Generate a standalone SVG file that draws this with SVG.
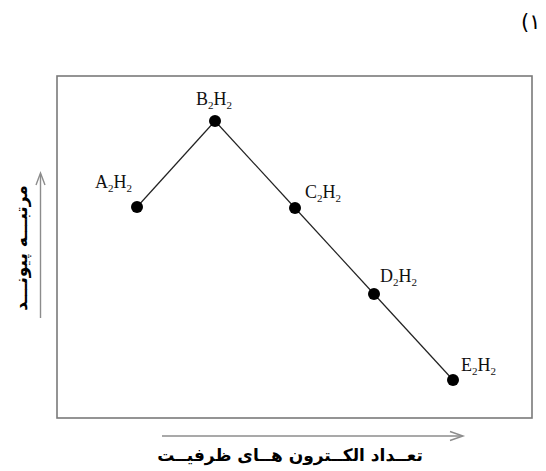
<svg xmlns="http://www.w3.org/2000/svg" width="546" height="471" viewBox="0 0 546 471">
  <defs>
    <style>
      .frame { fill: none; stroke: #7a7a7a; stroke-width: 1.6; }
      .axis { fill: none; stroke: #8c8c8c; stroke-width: 1.4; }
      .edge { fill: none; stroke: #222; stroke-width: 1.2; }
      .dot { fill: #000; }
      .lbl { font-family: "Liberation Serif", "Times New Roman", serif; font-size: 18px; fill: #111; }
      .sub { font-size: 11px; }
      .fa { font-family: "DejaVu Sans", "Noto Sans", sans-serif; font-size: 17px; font-weight: bold; fill: #000; }
    </style>
  </defs>
  <rect width="546" height="471" fill="#fff"/>

  <text x="521" y="29" style="font-family: 'DejaVu Sans', sans-serif; font-size: 21px; fill:#000;">(۱</text>

  <rect class="frame" x="57" y="76" width="475" height="342"/>

  <g id="axes">
    <line class="axis" x1="40.5" y1="318" x2="40.5" y2="174"/>
    <polyline class="axis" points="36,185 40.5,173 45,185"/>
    <line class="axis" x1="162" y1="436" x2="462" y2="436"/>
    <polyline class="axis" points="450,431.5 463,436 450,440.5"/>
  </g>

  <text class="fa" transform="rotate(-90 27 248)" x="27" y="248" text-anchor="middle">مرتبـــه پیونـــد</text>
  <text class="fa" x="290" y="461" text-anchor="middle">تعــداد الکــترون هــای ظرفیــت</text>

  <g id="connectors">
    <line class="edge" x1="137" y1="207" x2="215" y2="121"/>
    <line class="edge" x1="215" y1="121" x2="295" y2="208"/>
    <line class="edge" x1="295" y1="208" x2="374" y2="294"/>
    <line class="edge" x1="374" y1="294" x2="453" y2="380"/>
  </g>

  <g id="A2H2">
    <circle class="dot" cx="137" cy="207" r="6"/>
    <text class="lbl" x="95" y="188">A<tspan class="sub" dy="4">2</tspan><tspan dy="-4">H</tspan><tspan class="sub" dy="4">2</tspan></text>
  </g>
  <g id="B2H2">
    <circle class="dot" cx="215" cy="121" r="6"/>
    <text class="lbl" x="196" y="105">B<tspan class="sub" dy="4">2</tspan><tspan dy="-4">H</tspan><tspan class="sub" dy="4">2</tspan></text>
  </g>
  <g id="C2H2">
    <circle class="dot" cx="295" cy="208" r="6"/>
    <text class="lbl" x="305" y="198">C<tspan class="sub" dy="4">2</tspan><tspan dy="-4">H</tspan><tspan class="sub" dy="4">2</tspan></text>
  </g>
  <g id="D2H2">
    <circle class="dot" cx="374" cy="294" r="6"/>
    <text class="lbl" x="380" y="282">D<tspan class="sub" dy="4">2</tspan><tspan dy="-4">H</tspan><tspan class="sub" dy="4">2</tspan></text>
  </g>
  <g id="E2H2">
    <circle class="dot" cx="453" cy="380" r="6"/>
    <text class="lbl" x="461" y="371">E<tspan class="sub" dy="4">2</tspan><tspan dy="-4">H</tspan><tspan class="sub" dy="4">2</tspan></text>
  </g>
</svg>
